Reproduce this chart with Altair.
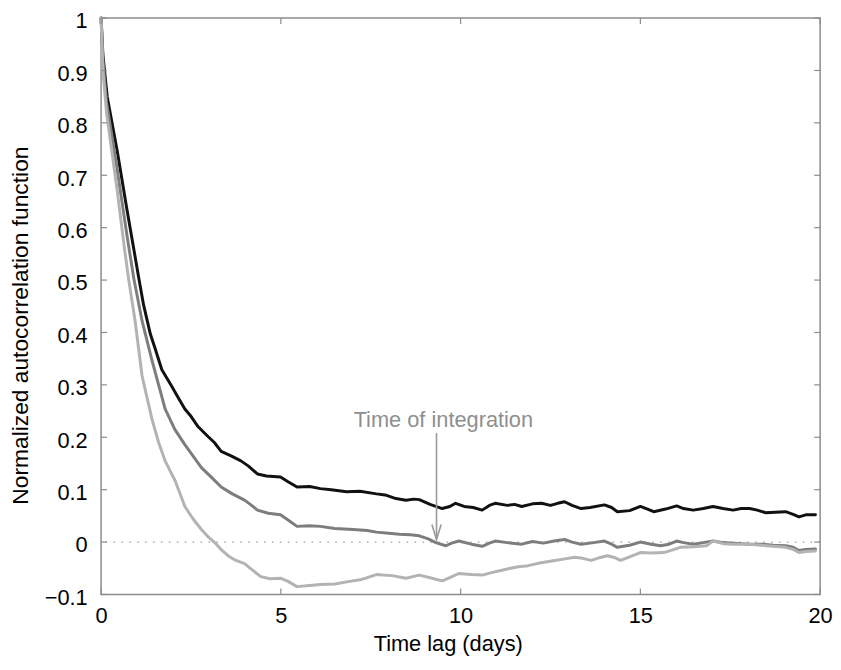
import altair as alt
import pandas as pd

# ---- data ----
black_x = [0, 0.05, 0.17, 0.45, 0.72, 0.91, 1.05, 1.18, 1.37, 1.50, 1.69, 1.96, 2.15, 2.33, 2.50, 2.70,
           2.98, 3.15, 3.34, 3.60, 3.89, 4.10, 4.35, 4.60, 4.99, 5.20, 5.45, 5.80, 6.10, 6.40, 6.83,
           7.20, 7.66, 7.90, 8.20, 8.48, 8.70, 8.85, 9.15, 9.49, 9.70, 9.86, 10.10, 10.35, 10.60,
           10.80, 10.96, 11.30, 11.50, 11.70, 12.00, 12.25, 12.50, 12.70, 12.89, 13.10, 13.35, 13.60,
           14.00, 14.20, 14.36, 14.70, 15.00, 15.20, 15.37, 15.70, 16.01, 16.20, 16.47, 16.75, 17.02,
           17.30, 17.58, 17.80, 18.04, 18.25, 18.49, 18.75, 19.04, 19.25, 19.41, 19.60, 19.87]
black_y = [1.0, 0.93, 0.85, 0.746, 0.634, 0.559, 0.503, 0.453, 0.397, 0.370, 0.329, 0.298, 0.275, 0.254,
           0.240, 0.220, 0.201, 0.190, 0.173, 0.165, 0.155, 0.145, 0.130, 0.126, 0.124, 0.115, 0.105,
           0.106, 0.102, 0.100, 0.096, 0.097, 0.092, 0.090, 0.083, 0.080, 0.082, 0.081, 0.072, 0.064,
           0.068, 0.074, 0.068, 0.066, 0.061, 0.070, 0.074, 0.070, 0.072, 0.068, 0.073, 0.074, 0.070,
           0.074, 0.077, 0.070, 0.064, 0.066, 0.071, 0.066, 0.058, 0.060, 0.068, 0.063, 0.058, 0.063,
           0.069, 0.064, 0.061, 0.064, 0.068, 0.064, 0.061, 0.064, 0.064, 0.061, 0.056, 0.057, 0.058,
           0.053, 0.048, 0.052, 0.052]

mid_x = [0, 0.05, 0.15, 0.45, 0.72, 0.91, 1.14, 1.41, 1.60, 1.78, 2.05, 2.33, 2.55, 2.79, 3.05, 3.34,
         3.65, 3.99, 4.15, 4.35, 4.65, 4.99, 5.20, 5.45, 5.80, 6.10, 6.50, 7.02, 7.40, 7.66, 8.00,
         8.30, 8.60, 8.85, 9.10, 9.31, 9.59, 9.75, 9.95, 10.30, 10.60, 10.80, 10.96, 11.30, 11.70,
         12.00, 12.30, 12.60, 12.89, 13.10, 13.35, 13.70, 14.00, 14.20, 14.36, 14.70, 15.00, 15.30,
         15.56, 15.80, 16.01, 16.20, 16.47, 16.75, 17.02, 17.30, 17.60, 18.04, 18.40, 18.70, 19.04,
         19.25, 19.41, 19.60, 19.87]
mid_y = [1.0, 0.92, 0.84, 0.71, 0.585, 0.503, 0.422, 0.348, 0.300, 0.254, 0.215, 0.186, 0.165, 0.142,
         0.125, 0.105, 0.092, 0.080, 0.072, 0.061, 0.055, 0.052, 0.042, 0.030, 0.031, 0.030, 0.026,
         0.024, 0.022, 0.019, 0.017, 0.015, 0.014, 0.012, 0.006, -0.001, -0.007, -0.002, 0.002,
         -0.004, -0.008, -0.002, 0.002, -0.001, -0.004, 0.001, -0.002, 0.002, 0.005, 0.000, -0.004,
         -0.001, 0.002, -0.004, -0.010, -0.006, 0.000, -0.004, -0.007, -0.004, 0.002, -0.001, -0.004,
         -0.001, 0.002, -0.001, -0.002, -0.004, -0.004, -0.006, -0.007, -0.010, -0.016, -0.014, -0.013]

light_x = [0, 0.05, 0.15, 0.45, 0.65, 0.77, 0.95, 1.14, 1.41, 1.60, 1.78, 2.06, 2.33, 2.55, 2.79, 2.95,
           3.16, 3.35, 3.53, 3.75, 3.99, 4.17, 4.44, 4.70, 4.99, 5.20, 5.45, 5.80, 6.10, 6.50, 6.83,
           7.20, 7.40, 7.66, 7.84, 8.10, 8.48, 8.85, 9.15, 9.49, 9.70, 9.95, 10.30, 10.60, 11.00,
           11.33, 11.60, 11.88, 12.20, 12.62, 12.90, 13.17, 13.40, 13.63, 13.85, 14.09, 14.30, 14.45,
           14.70, 15.00, 15.30, 15.65, 15.90, 16.11, 16.50, 16.84, 17.02, 17.30, 17.58, 18.04, 18.50,
           19.04, 19.25, 19.41, 19.60, 19.87]
light_y = [1.0, 0.90, 0.82, 0.67, 0.56, 0.50, 0.42, 0.317, 0.236, 0.19, 0.155, 0.117, 0.068, 0.045,
           0.024, 0.012, -0.001, -0.015, -0.026, -0.035, -0.041, -0.051, -0.066, -0.070, -0.069,
           -0.075, -0.085, -0.083, -0.081, -0.080, -0.076, -0.072, -0.068, -0.062, -0.063, -0.064,
           -0.069, -0.063, -0.068, -0.074, -0.068, -0.060, -0.062, -0.063, -0.056, -0.051, -0.047,
           -0.045, -0.040, -0.035, -0.032, -0.029, -0.031, -0.035, -0.030, -0.026, -0.030, -0.035,
           -0.028, -0.020, -0.021, -0.020, -0.015, -0.010, -0.009, -0.007, 0.002, -0.003, -0.004,
           -0.004, -0.007, -0.010, -0.014, -0.020, -0.018, -0.017]

x_ticks = [0, 5, 10, 15, 20]
y_ticks = [-0.1, 0, 0.1, 0.2, 0.3, 0.4, 0.5, 0.6, 0.7, 0.8, 0.9, 1]

note_text = "Time of integration"
note_x, note_y = 9.52, 0.219
arrow_x, arrow_top, arrow_tip = 9.33, 0.208, 0.005

# ---- chart ----
W, H = 726, 582
FONT = "Liberation Sans"
GRAY = "#8c8c8c"

xs = alt.Scale(domain=[0, 20], nice=False, zero=False)
ys = alt.Scale(domain=[-0.1, 1], nice=False, zero=False)

x_axis = alt.Axis(values=x_ticks, ticks=False, domain=False, grid=False, format="~g",
                  labelFlush=False,
                  labelFont=FONT, labelFontSize=22, labelColor="black", labelPadding=11,
                  title="Time lag (days)", titleFont=FONT, titleFontSize=22,
                  titleFontWeight="normal", titleColor="black", titlePadding=8,
                  titleX=350, titleAlign="center")
y_axis = alt.Axis(values=y_ticks, ticks=False, domain=False, grid=False, format="~g",
                  labelFlush=False,
                  labelFont=FONT, labelFontSize=22, labelColor="black", labelPadding=14,
                  labelOffset=3,
                  title="Normalized autocorrelation function", titleFont=FONT, titleFontSize=23,
                  titleFontWeight="normal", titleColor="black", titleAngle=270,
                  titleX=-81, titleY=310, titleBaseline="middle", titleAlign="center")


def X(f="lag"):
    return alt.X(f"{f}:Q", scale=xs, axis=x_axis)


def Y(f="acf"):
    return alt.Y(f"{f}:Q", scale=ys, axis=y_axis)


def series(xv, yv, color):
    df = pd.DataFrame({"lag": xv, "acf": yv})
    return alt.Chart(df).mark_line(color=color, strokeWidth=3, strokeJoin="round",
                                   strokeCap="round").encode(x=X(), y=Y())


zero_line = alt.Chart(pd.DataFrame({"acf": [0]})).mark_rule(
    color="#999999", strokeWidth=1.2, strokeDash=[1.5, 6.5]).encode(y=Y())

xt = pd.DataFrame({"lag": x_ticks})
yt = pd.DataFrame({"acf": y_ticks})
tick_style = dict(color=GRAY, strokeWidth=1.2)
ticks_bottom = alt.Chart(xt).mark_rule(**tick_style).encode(x=X(), y=alt.value(H - 6), y2=alt.value(H))
ticks_top = alt.Chart(xt).mark_rule(**tick_style).encode(x=X(), y=alt.value(0), y2=alt.value(6))
ticks_left = alt.Chart(yt).mark_rule(**tick_style).encode(y=Y(), x=alt.value(0), x2=alt.value(6))
ticks_right = alt.Chart(yt).mark_rule(**tick_style).encode(y=Y(), x=alt.value(W - 6), x2=alt.value(W))

arrow_df = pd.DataFrame({"lag": [arrow_x], "acf": [arrow_top], "acf2": [arrow_tip]})
shaft = alt.Chart(arrow_df).mark_rule(color="#999999", strokeWidth=1.6).encode(
    x=X(), y=Y(), y2=alt.Y2("acf2:Q"))
head = alt.Chart(pd.DataFrame({"lag": [arrow_x], "acf": [arrow_tip]})).mark_point(
    shape="M -0.31 -1 L 0 0 L 0.31 -1", filled=False, size=900, strokeWidth=1.6,
    color="#999999", opacity=1).encode(x=X(), y=Y())
note = alt.Chart(pd.DataFrame({"lag": [note_x], "acf": [note_y], "txt": [note_text]})).mark_text(
    align="center", baseline="alphabetic", font=FONT, fontSize=22, color="#8f8f8f").encode(
    x=X(), y=Y(), text="txt:N")

chart = alt.layer(
    zero_line,
    series(black_x, black_y, "#111111"),
    series(mid_x, mid_y, "#7d7d7d"),
    series(light_x, light_y, "#b3b3b3"),
    shaft, head, note,
    ticks_bottom, ticks_top, ticks_left, ticks_right,
).properties(
    width=W, height=H,
    padding={"left": 94, "top": 7, "right": 13, "bottom": 65},
    autosize=alt.AutoSizeParams(type="none"),
    background="white",
).configure_view(stroke=GRAY, strokeWidth=1.5)

chart.save("out.html", embed_options={"renderer": "svg", "actions": False})
